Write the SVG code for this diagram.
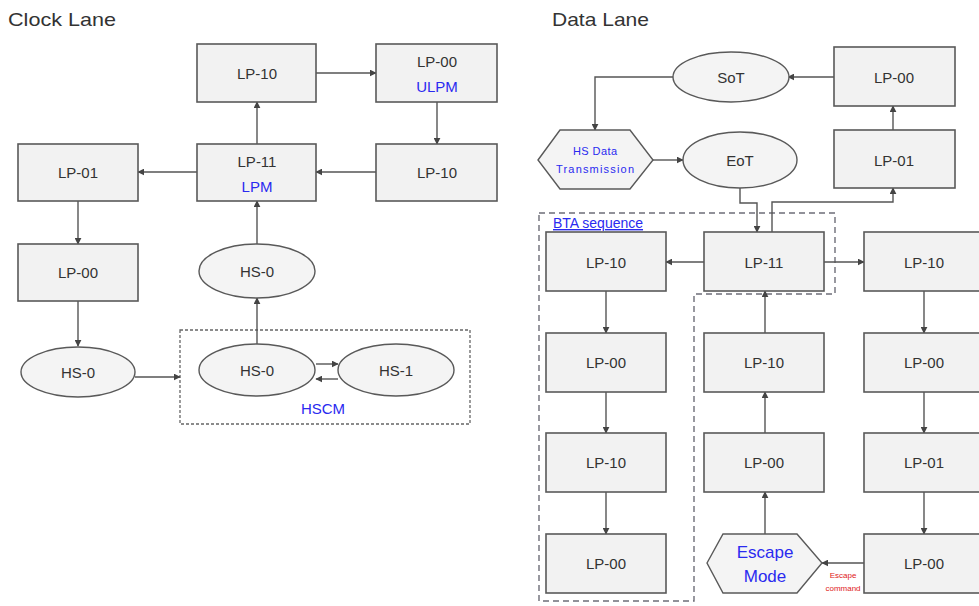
<svg xmlns="http://www.w3.org/2000/svg" width="979" height="606" viewBox="0 0 979 606">
<style>
.box{fill:#f2f2f2;stroke:#595959;stroke-width:1.6}
.ell{fill:#f4f4f4;stroke:#595959;stroke-width:1.4}
.t{font-family:"Liberation Sans",Arial,sans-serif;font-size:15px;fill:#333;text-anchor:middle}
.b{fill:#2a2af0}
.title{font-family:"Liberation Sans",Arial,sans-serif;font-size:19px;fill:#333}
.c{fill:none;stroke:#555;stroke-width:1.4;marker-end:url(#ah)}
.dash{fill:none;stroke:#6e6e78;stroke-width:1.4;stroke-dasharray:6 4}
.dot{fill:none;stroke:#666;stroke-width:1.3;stroke-dasharray:3 2}
</style>
<defs>
<marker id="ah" viewBox="0 0 10 10" refX="9" refY="5" markerWidth="7" markerHeight="7" orient="auto" markerUnits="userSpaceOnUse">
<path d="M0,0 L10,5 L0,10 z" fill="#444"/>
</marker>
</defs>
<rect width="979" height="606" fill="#fff"/>

<text class="title" x="8" y="26" textLength="108" lengthAdjust="spacingAndGlyphs">Clock Lane</text>
<text class="title" x="552" y="26" textLength="97" lengthAdjust="spacingAndGlyphs">Data Lane</text>

<g id="groups">
<rect id="hscm" class="dot" x="180" y="330" width="290" height="94"/>
<path id="bta" class="dash" d="M539,213 H835 V294 H694 V601 H539 Z"/>
</g>

<g id="connectors">
<path class="c" d="M316,73 H376"/>
<path class="c" d="M437,102 V144"/>
<path class="c" d="M376,172 H316"/>
<path class="c" d="M197,172 H138"/>
<path class="c" d="M78,201 V244"/>
<path class="c" d="M78,301 V346"/>
<path class="c" d="M135,377 H180"/>
<path class="c" d="M257,144 V102"/>
<path class="c" d="M257,245 V201"/>
<path class="c" d="M257,344 V298"/>
<path class="c" d="M316,364 H338"/>
<path class="c" d="M338,379 H316"/>
<path class="c" d="M834,77 H788"/>
<path class="c" d="M893,130 V106"/>
<path class="c" d="M673,77 H595 V130"/>
<path class="c" d="M653,160 H683"/>
<path class="c" d="M740,188 V203 H757 V232"/>
<path class="c" d="M772,232 V202 H893 V188"/>
<path class="c" d="M704,262 H666"/>
<path class="c" d="M824,262 H864"/>
<path class="c" d="M606,291 V333"/>
<path class="c" d="M606,392 V433"/>
<path class="c" d="M606,492 V534"/>
<path class="c" d="M924,291 V333"/>
<path class="c" d="M924,392 V433"/>
<path class="c" d="M924,492 V534"/>
<path class="c" d="M864,563 H822"/>
<path class="c" d="M765,534 V492"/>
<path class="c" d="M765,433 V392"/>
<path class="c" d="M765,333 V291"/>
</g>

<g id="c-lp10-top"><rect class="box" x="197" y="44" width="119" height="58"/><text class="t" x="257" y="79">LP-10</text></g>
<g id="c-lp00-ulpm"><rect class="box" x="376" y="44" width="121" height="58"/><text class="t" x="437" y="67">LP-00</text><text class="t b" x="437" y="92">ULPM</text></g>
<g id="c-lp01"><rect class="box" x="18" y="144" width="120" height="57"/><text class="t" x="78" y="178">LP-01</text></g>
<g id="c-lp11-lpm"><rect class="box" x="197" y="144" width="119" height="57"/><text class="t" x="257" y="167">LP-11</text><text class="t b" x="257" y="192">LPM</text></g>
<g id="c-lp10-mid"><rect class="box" x="376" y="144" width="121" height="57"/><text class="t" x="437" y="178">LP-10</text></g>
<g id="c-lp00"><rect class="box" x="18" y="244" width="120" height="57"/><text class="t" x="78" y="278">LP-00</text></g>
<g id="c-hs0-top"><ellipse class="ell" cx="257" cy="271" rx="58" ry="27"/><text class="t" x="257" y="277">HS-0</text></g>
<g id="c-hs0-left"><ellipse class="ell" cx="78" cy="372" rx="57" ry="25"/><text class="t" x="78" y="378">HS-0</text></g>
<g id="c-hs0-hscm"><ellipse class="ell" cx="257" cy="370" rx="58" ry="26"/><text class="t" x="257" y="376">HS-0</text></g>
<g id="c-hs1"><ellipse class="ell" cx="396" cy="370" rx="58" ry="26"/><text class="t" x="396" y="376">HS-1</text></g>
<text class="t b" x="323" y="414">HSCM</text>

<g id="d-sot"><ellipse class="ell" cx="731" cy="77" rx="58" ry="25"/><text class="t" x="731" y="83">SoT</text></g>
<g id="d-lp00-top"><rect class="box" x="834" y="47" width="121" height="59"/><text class="t" x="894" y="83">LP-00</text></g>
<g id="d-lp01-top"><rect class="box" x="834" y="130" width="121" height="58"/><text class="t" x="894" y="166">LP-01</text></g>
<g id="d-hsdata"><polygon class="ell" points="538,160 560,130 630,130 653,160 630,189 560,189"/><text class="t b" x="595" y="155" style="font-size:11px" textLength="44" lengthAdjust="spacing">HS Data</text><text class="t b" x="595" y="173" style="font-size:11px" textLength="78" lengthAdjust="spacing">Transmission</text></g>
<g id="d-eot"><ellipse class="ell" cx="740" cy="160" rx="57" ry="28"/><text class="t" x="740" y="166">EoT</text></g>
<text x="553" y="228" style="font-family:'Liberation Sans',Arial,sans-serif;font-size:14px;fill:#2a2af0;text-decoration:underline">BTA sequence</text>

<g id="d-lp10-a"><rect class="box" x="546" y="232" width="120" height="59"/><text class="t" x="606" y="268">LP-10</text></g>
<g id="d-lp11"><rect class="box" x="704" y="232" width="120" height="59"/><text class="t" x="764" y="268">LP-11</text></g>
<g id="d-lp10-c"><rect class="box" x="864" y="232" width="120" height="59"/><text class="t" x="924" y="268">LP-10</text></g>

<g id="d-lp00-a"><rect class="box" x="546" y="333" width="120" height="59"/><text class="t" x="606" y="368">LP-00</text></g>
<g id="d-lp10-b"><rect class="box" x="704" y="333" width="120" height="59"/><text class="t" x="764" y="368">LP-10</text></g>
<g id="d-lp00-c"><rect class="box" x="864" y="333" width="120" height="59"/><text class="t" x="924" y="368">LP-00</text></g>

<g id="d-lp10-a2"><rect class="box" x="546" y="433" width="120" height="59"/><text class="t" x="606" y="468">LP-10</text></g>
<g id="d-lp00-b"><rect class="box" x="704" y="433" width="120" height="59"/><text class="t" x="764" y="468">LP-00</text></g>
<g id="d-lp01-c"><rect class="box" x="864" y="433" width="120" height="59"/><text class="t" x="924" y="468">LP-01</text></g>

<g id="d-lp00-a3"><rect class="box" x="546" y="534" width="120" height="59"/><text class="t" x="606" y="569">LP-00</text></g>
<g id="d-escape"><polygon class="ell" points="707,563 723,534 797,534 822,563 797,593 723,593"/><text class="t b" x="765" y="558" style="font-size:17px">Escape</text><text class="t b" x="765" y="582" style="font-size:17px">Mode</text></g>
<text x="843" y="578" style="font-family:'Liberation Sans',Arial,sans-serif;font-size:8px;fill:#e02020;text-anchor:middle">Escape</text>
<text x="843" y="591" style="font-family:'Liberation Sans',Arial,sans-serif;font-size:8px;fill:#e02020;text-anchor:middle">command</text>
<g id="d-lp00-c3"><rect class="box" x="864" y="534" width="120" height="59"/><text class="t" x="924" y="569">LP-00</text></g>
</svg>
